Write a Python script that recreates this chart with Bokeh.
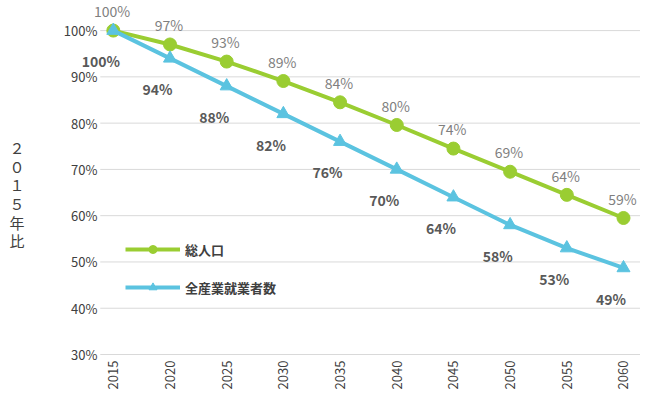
from bokeh.plotting import figure
from bokeh.models import Range1d, Legend, LegendItem, LabelSet, ColumnDataSource
from bokeh.core.properties import value
from bokeh.embed import file_html
from bokeh.resources import INLINE
import math

years = ["2015", "2020", "2025", "2030", "2035", "2040", "2045", "2050", "2055", "2060"]
total_pop = [100, 97, 93.3, 89.1, 84.5, 79.6, 74.5, 69.5, 64.5, 59.5]
workers = [100, 94, 88, 82, 76, 70, 64, 58, 53, 48.7]
total_lbl = ["100%", "97%", "93%", "89%", "84%", "80%", "74%", "69%", "64%", "59%"]
work_lbl = ["100%", "94%", "88%", "82%", "76%", "70%", "64%", "58%", "53%", "49%"]
y_ticks = [30, 40, 50, 60, 70, 80, 90, 100]
y_title = ["２", "０", "１", "５", "年", "比"]

GREEN = "#9ACD32"
BLUE = "#5BC3E0"
FONT = "Noto Sans CJK JP"

xs = list(range(len(years)))
tp = [v / 100 for v in total_pop]
wk = [v / 100 for v in workers]
yt = [v / 100 for v in y_ticks]

p = figure(width=640, height=389, output_backend="svg", toolbar_location=None,
           x_range=Range1d(-1.99, 9.3), y_range=Range1d(0.2244, 1.065),
           min_border=0)
p.outline_line_color = None
p.grid.grid_line_color = None
p.axis.visible = False

# grid lines and bottom axis line
p.segment(x0=-0.23, x1=9.3, y0=yt, y1=yt, line_color="#D9D9D9", line_width=1)

# y tick labels
p.text(x=[-0.28] * len(yt), y=yt, text=[f"{v}%" for v in y_ticks], text_align="right",
       text_baseline="middle", text_font=value(FONT), text_font_size="13px",
       text_color="#404040")
# x tick labels (rotated)
p.text(x=xs, y=[0.287] * len(xs), text=years, angle=math.pi / 2, text_align="right",
       text_baseline="middle", text_font=value(FONT), text_font_size="13px",
       text_color="#404040")
# vertical y title
p.text(x=[-1.7] * len(y_title), y=[0.747 - 0.0402 * i for i in range(len(y_title))],
       text=y_title, text_align="center", text_baseline="middle",
       text_font=value(FONT), text_font_size="15px", text_color="#404040")

l1 = p.line(xs, tp, line_color=GREEN, line_width=4)
c1 = p.scatter(xs, tp, size=13, color=GREEN)
l2 = p.line(xs, wk, line_color=BLUE, line_width=4)
c2 = p.scatter(xs, wk, size=13, marker="triangle", color=BLUE)

src1 = ColumnDataSource(dict(x=[x - 0.02 for x in xs], y=[v + 0.02 for v in tp], t=total_lbl))
src2 = ColumnDataSource(dict(x=[x - 0.22 for x in xs], y=[v - 0.045 for v in wk], t=work_lbl))
p.add_layout(LabelSet(x="x", y="y", text="t", source=src1, text_align="center",
                      text_baseline="bottom", text_font=value(FONT), text_font_size="14px",
                      text_color="#7F7F7F"))
p.add_layout(LabelSet(x="x", y="y", text="t", source=src2, text_align="center",
                      text_baseline="top", text_font=value(FONT), text_font_size="14px",
                      text_font_style="bold", text_color="#595959"))

legend = Legend(items=[LegendItem(label="総人口", renderers=[l1, c1]),
                       LegendItem(label="全産業就業者数", renderers=[l2, c2])],
                location=(125, 92), background_fill_alpha=0, border_line_color=None,
                label_text_font=FONT, label_text_font_size="13px", label_text_color="#404040",
                label_text_font_style="bold", glyph_width=55, spacing=18)
p.add_layout(legend)

open("out.html", "w").write(file_html(p, INLINE))
